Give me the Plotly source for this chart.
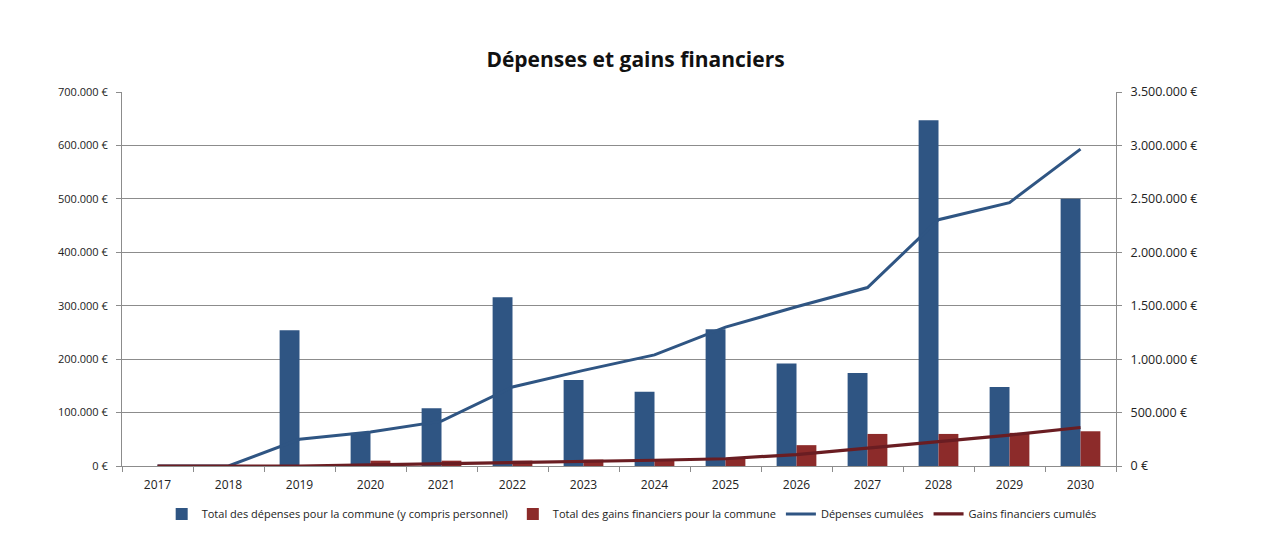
import plotly.graph_objects as go

years = ["2017", "2018", "2019", "2020", "2021", "2022", "2023",
         "2024", "2025", "2026", "2027", "2028", "2029", "2030"]

# Annual amounts (left axis, €)
depenses = [0, 0, 254000, 62000, 108000, 316000, 161000,
            139000, 256000, 192000, 174000, 647000, 148000, 500000]
gains = [0, 0, 0, 10000, 10000, 10000, 12000,
         12000, 14000, 39000, 60000, 60000, 62000, 65000]

# Cumulated amounts (right axis, €)
depenses_cumul = [0, 0, 250000, 318000, 420000, 740000, 895000,
                  1040000, 1300000, 1490000, 1670000, 2305000, 2465000, 2965000]
gains_cumul = [0, 0, 0, 10000, 20000, 30000, 42000,
               54000, 68000, 107000, 167000, 227000, 289000, 360000]

left_ticks = [0, 100000, 200000, 300000, 400000, 500000, 600000, 700000]
left_labels = ["0 €", "100.000 €", "200.000 €", "300.000 €",
               "400.000 €", "500.000 €", "600.000 €", "700.000 €"]
right_ticks = [0, 500000, 1000000, 1500000, 2000000, 2500000, 3000000, 3500000]
right_labels = ["0 €", "500.000 €", "1.000.000 €", "1.500.000 €",
                "2.000.000 €", "2.500.000 €", "3.000.000 €", "3.500.000 €"]

BLUE = "#2F5583"
RED = "#8C2B2A"
MAROON = "#6A1D22"
GRID = "#8C8C8C"
FONT = "Open Sans"

fig = go.Figure()
fig.add_trace(go.Bar(x=years, y=depenses, marker_color=BLUE, marker_line_width=0,
                     name="Total des dépenses pour la commune (y compris personnel)"))
fig.add_trace(go.Bar(x=years, y=gains, marker_color=RED, marker_line_width=0,
                     name="Total des gains financiers pour la commune"))
fig.add_trace(go.Scatter(x=years, y=depenses_cumul, mode="lines", yaxis="y2",
                         line=dict(color=BLUE, width=3), name="Dépenses cumulées"))
fig.add_trace(go.Scatter(x=years, y=gains_cumul, mode="lines", yaxis="y2",
                         line=dict(color=MAROON, width=3.2), name="Gains financiers cumulés"))

fig.update_layout(
    width=1271, height=537,
    margin=dict(l=122, r=155, t=92, b=71, autoexpand=False),
    paper_bgcolor="white", plot_bgcolor="white",
    font=dict(family=FONT, size=10, color="#222222"),
    title=dict(text="<b>Dépenses et gains financiers</b>", x=0.5, xanchor="center",
               y=0.888, yanchor="middle", xref="container", yref="container",
               font=dict(family=FONT, size=21, color="#111111")),
    barmode="group", bargap=0.44, bargroupgap=0,
    showlegend=True,
    legend=dict(orientation="h", x=0.497, xanchor="center", xref="container",
                y=0.043, yanchor="middle", yref="container",
                font=dict(family=FONT, size=11, color="#222222"),
                itemwidth=30, tracegroupgap=0, traceorder="normal"),
    xaxis=dict(type="category", tickson="boundaries", ticks="outside", ticklen=5,
               tickcolor=GRID, showline=True, linecolor=GRID, linewidth=1,
               showgrid=False, tickfont=dict(size=12, color="#222222"),
               ticklabelstandoff=8, range=[-0.5, 13.5], automargin=False),
    yaxis=dict(range=[0, 700000], tickvals=left_ticks, ticktext=left_labels,
               ticks="outside", ticklen=5, tickcolor=GRID, showline=True,
               linecolor=GRID, linewidth=1, showgrid=True, gridcolor=GRID,
               gridwidth=1, zeroline=False, ticklabelstandoff=6, automargin=False,
               tickfont=dict(size=11, color="#222222")),
    yaxis2=dict(range=[0, 3500000], tickvals=right_ticks, ticktext=right_labels,
                overlaying="y", side="right", ticks="outside", ticklen=5,
                tickcolor=GRID, showline=True, linecolor=GRID, linewidth=1,
                showgrid=False, zeroline=False, ticklabelstandoff=6, automargin=False,
                tickfont=dict(size=12.5, color="#222222")),
)

fig.write_html("out.html")
